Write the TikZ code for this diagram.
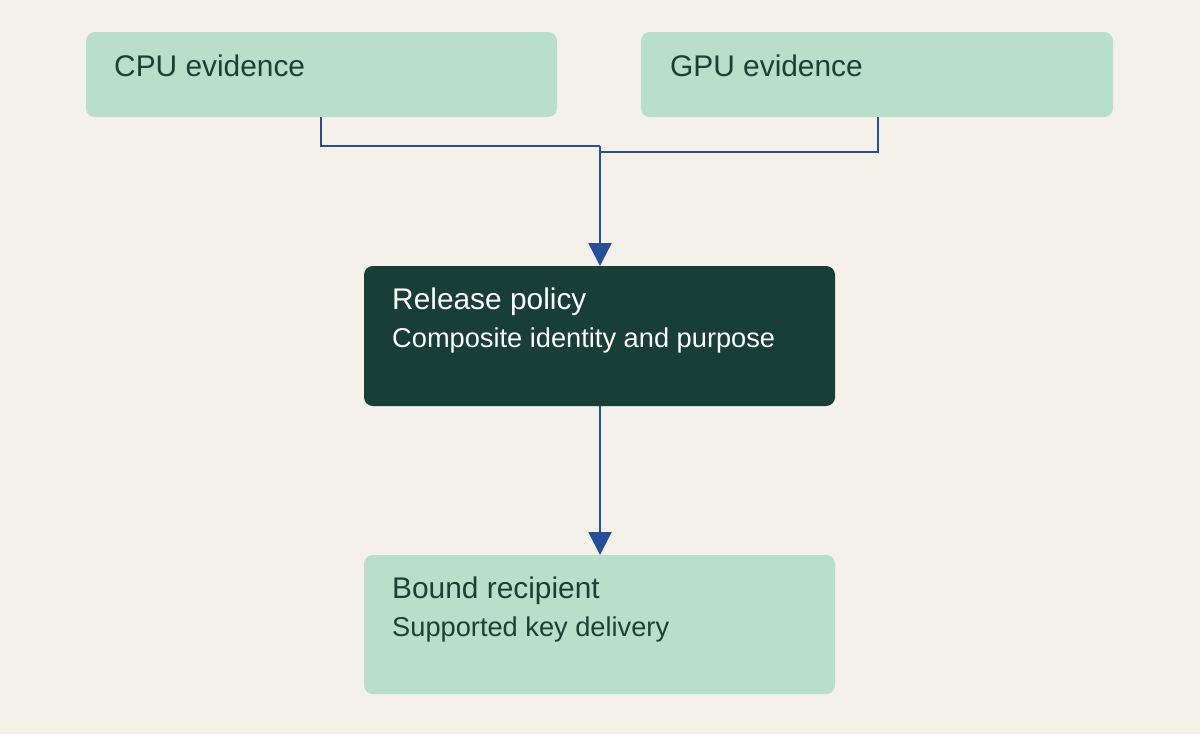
\documentclass[tikz,border=0pt]{standalone}
\usepackage{fontspec}
\setmainfont{Liberation Sans}
\usetikzlibrary{arrows.meta, positioning}
\definecolor{bgcream}{HTML}{F4F1E9}
\definecolor{boxmint}{HTML}{B8DFCA}
\definecolor{boxdark}{HTML}{173F37}
\definecolor{inkgreen}{HTML}{1E4034}
\definecolor{flowblue}{HTML}{24509A}

\begin{document}
\begin{tikzpicture}[x=0.02cm, y=-0.02cm]
		% Styles for boxes and flow lines
		\tikzset{mintbox/.style={fill=boxmint, draw=none, rounded corners=5pt}}
		\tikzset{darkbox/.style={fill=boxdark, draw=none, rounded corners=5pt}}
		\tikzset{flow/.style={draw=flowblue, line width=1.4pt}}
		\tikzset{tip/.style={flow, -{Triangle[length=13pt, width=13pt]}}}
		\tikzset{title/.style={anchor=base west, font=\fontsize{17}{20}\selectfont}}
		\tikzset{sub/.style={anchor=base west, font=\fontsize{15.5}{18}\selectfont}}
		
		% Background
		\fill[bgcream] (0,0) rectangle (1200,734);
		\useasboundingbox (0,0) rectangle (1200,734);
		
		% Evidence boxes
		\draw[mintbox] (86,32) rectangle (557,117);
		\draw[mintbox] (641,32) rectangle (1113,117);
		\node[title, inkgreen] (cpu) at (108,76) {CPU evidence};
		\node[title, inkgreen] (gpu) at (664,76) {GPU evidence};
		\coordinate (cpuout) at (321,117);
		\coordinate (gpuout) at (878,117);
		
		% Policy box
		\draw[darkbox] (364,266) rectangle (835,406);
		\node[title, white] (policy) at (386,309) {Release policy};
		\node[sub, white] (policysub) at (386,347) {Composite identity and purpose};
		\coordinate (policyin) at (600,266);
		\coordinate (policyout) at (600,406);
		
		% Recipient box
		\draw[mintbox] (364,555) rectangle (835,694);
		\node[title, inkgreen] (recipient) at (386,598) {Bound recipient};
		\node[sub, inkgreen] (recipientsub) at (386,636) {Supported key delivery};
		\coordinate (recipientin) at (600,555);
		
		% Flow lines
		\draw[flow] (cpuout) |- (600,146);
		\draw[flow] (gpuout) |- (600,152);
		\draw[tip] (600,146) -- (policyin);
		\draw[tip] (policyout) -- (recipientin);
	\end{tikzpicture}
\end{document}
